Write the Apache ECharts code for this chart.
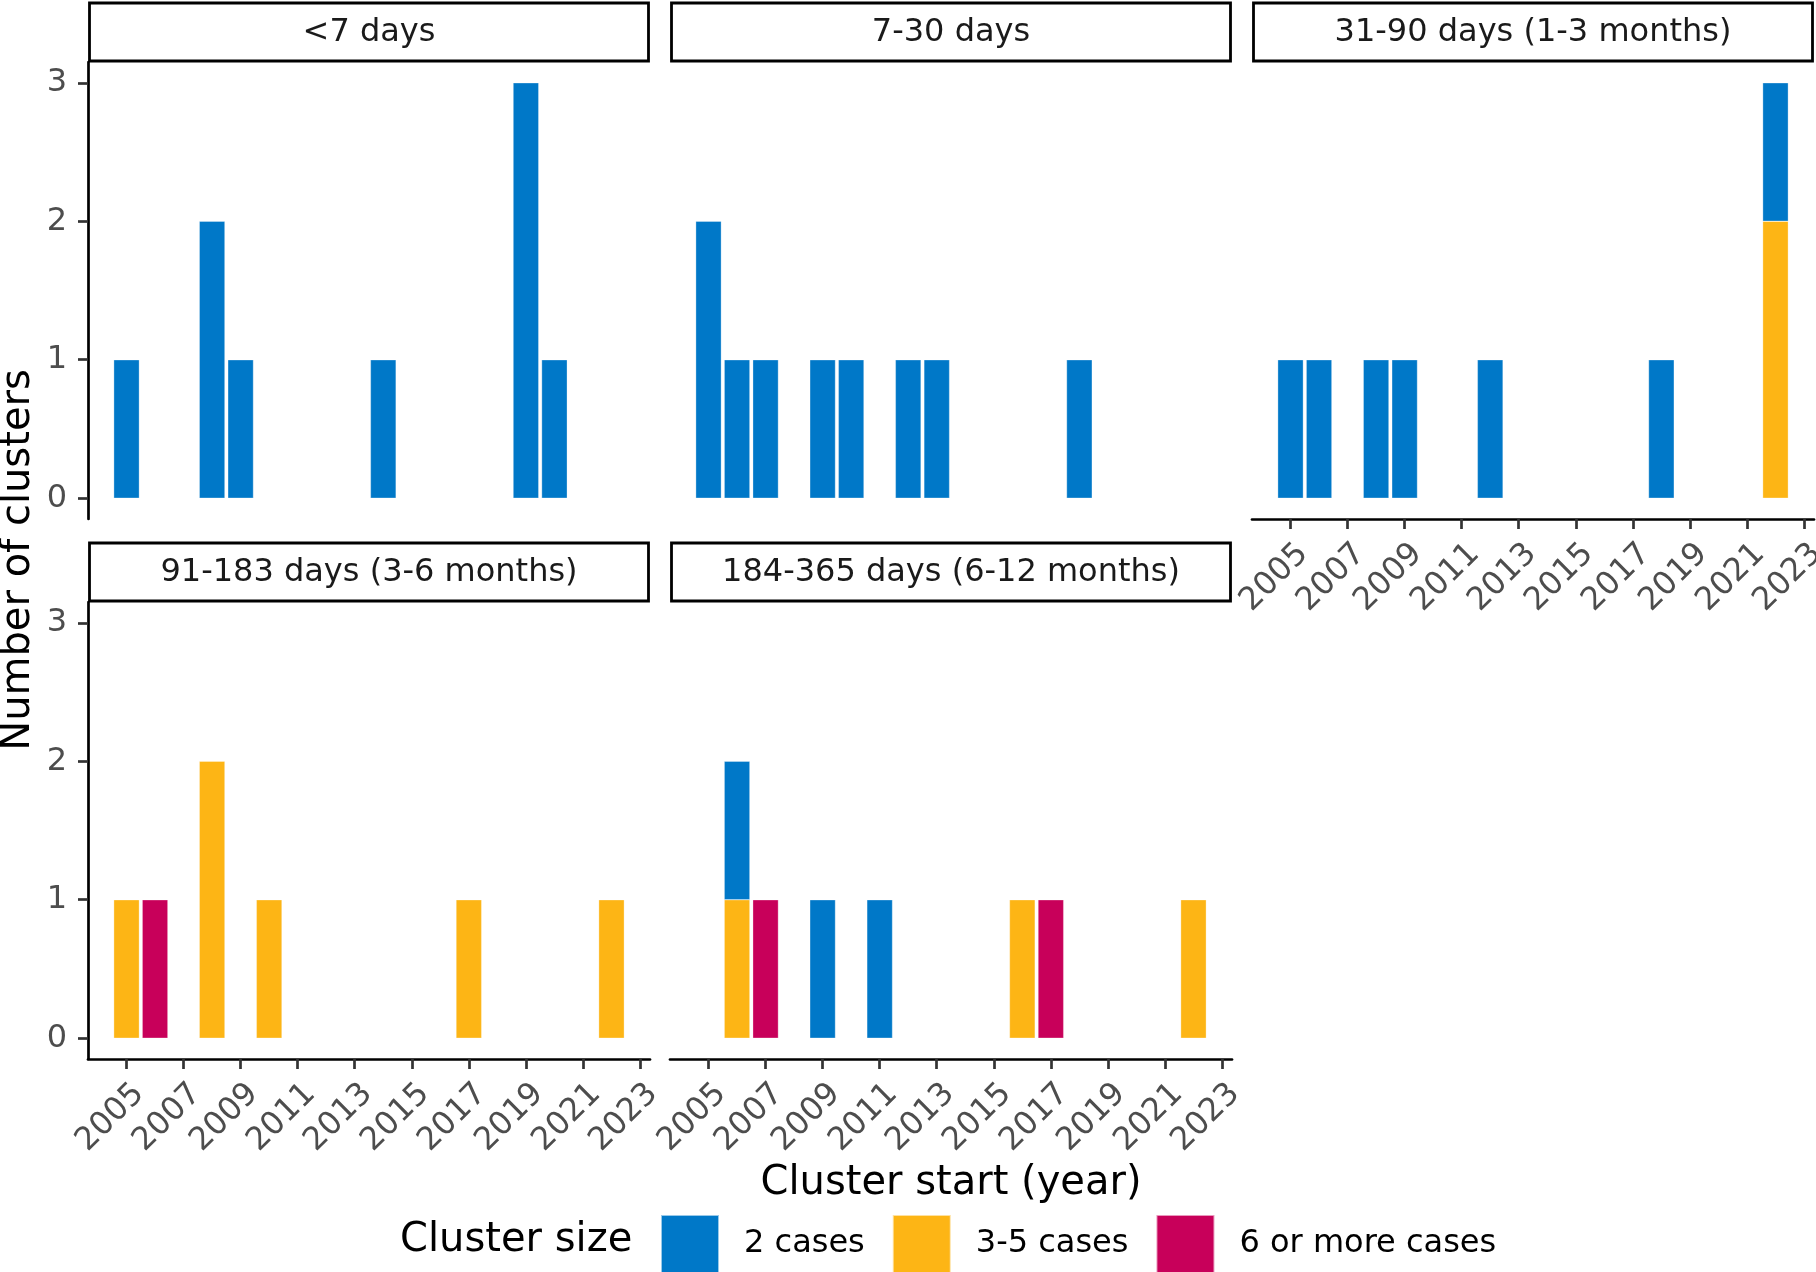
<!DOCTYPE html>
<html>
<head>
<meta charset="utf-8">
<title>Clusters by start year</title>
<script src="https://cdn.jsdelivr.net/npm/echarts@6/dist/echarts.min.js"></script>
<style>
  html, body { margin: 0; padding: 0; background: #fff; }
  #chart { width: 1816px; height: 1272px; }
</style>
</head>
<body>
<div id="chart"></div>
<script>
// x categories: one bar slot per start year
var years = [2005, 2006, 2007, 2008, 2009, 2010, 2011, 2012, 2013, 2014, 2015, 2016, 2017, 2018, 2019, 2020, 2021, 2022];
var xTicks = [2005, 2007, 2009, 2011, 2013, 2015, 2017, 2019, 2021, 2023];
var yTicks = [0, 1, 2, 3];

var panelNames = ['<7 days', '7-30 days', '31-90 days (1-3 months)', '91-183 days (3-6 months)', '184-365 days (6-12 months)'];
var sizeNames = ['2 cases', '3-5 cases', '6 or more cases'];
var sizeColors = ['#0078C8', '#FDB515', '#C8005A'];

// number of clusters per year (aligned with years)
var lt7Two    = [1, 0, 0, 2, 1, 0, 0, 0, 0, 1, 0, 0, 0, 0, 3, 1, 0, 0];
var lt7Three  = [0, 0, 0, 0, 0, 0, 0, 0, 0, 0, 0, 0, 0, 0, 0, 0, 0, 0];
var lt7Six    = [0, 0, 0, 0, 0, 0, 0, 0, 0, 0, 0, 0, 0, 0, 0, 0, 0, 0];

var d730Two   = [2, 1, 1, 0, 1, 1, 0, 1, 1, 0, 0, 0, 0, 1, 0, 0, 0, 0];
var d730Three = [0, 0, 0, 0, 0, 0, 0, 0, 0, 0, 0, 0, 0, 0, 0, 0, 0, 0];
var d730Six   = [0, 0, 0, 0, 0, 0, 0, 0, 0, 0, 0, 0, 0, 0, 0, 0, 0, 0];

var m13Two    = [1, 1, 0, 1, 1, 0, 0, 1, 0, 0, 0, 0, 0, 1, 0, 0, 0, 1];
var m13Three  = [0, 0, 0, 0, 0, 0, 0, 0, 0, 0, 0, 0, 0, 0, 0, 0, 0, 2];
var m13Six    = [0, 0, 0, 0, 0, 0, 0, 0, 0, 0, 0, 0, 0, 0, 0, 0, 0, 0];

var m36Two    = [0, 0, 0, 0, 0, 0, 0, 0, 0, 0, 0, 0, 0, 0, 0, 0, 0, 0];
var m36Three  = [1, 0, 0, 2, 0, 1, 0, 0, 0, 0, 0, 0, 1, 0, 0, 0, 0, 1];
var m36Six    = [0, 1, 0, 0, 0, 0, 0, 0, 0, 0, 0, 0, 0, 0, 0, 0, 0, 0];

var m612Two   = [0, 1, 0, 0, 1, 0, 1, 0, 0, 0, 0, 0, 0, 0, 0, 0, 0, 0];
var m612Three = [0, 1, 0, 0, 0, 0, 0, 0, 0, 0, 0, 1, 0, 0, 0, 0, 0, 1];
var m612Six   = [0, 0, 1, 0, 0, 0, 0, 0, 0, 0, 0, 0, 1, 0, 0, 0, 0, 0];

var panelCounts = [
  [lt7Two, lt7Three, lt7Six],
  [d730Two, d730Three, d730Six],
  [m13Two, m13Three, m13Six],
  [m36Two, m36Three, m36Six],
  [m612Two, m612Three, m612Six]
];

// layout (facet grid 3 x 2, last cell empty)
var colLeft = [88, 670, 1252];
var rowTop = [62, 602];
var gridW = 562, gridH = 457, stripH = 59;
var xMin = 2003.65, xMax = 2023.35;
var yMin = -0.15, yMax = 3.15;
var showX = [false, false, true, true, true];
var showY = [true, false, false, true, false];
var font = '"DejaVu Sans", sans-serif';
var barW = 0.9 * gridW / (xMax - xMin);

var grids = [], xAxes = [], yAxes = [], series = [], graphics = [];

panelNames.forEach(function (name, p) {
  var left = colLeft[p % 3], top = rowTop[Math.floor(p / 3)];
  grids.push({ left: left, top: top, width: gridW, height: gridH, outerBoundsMode: 'none' });

  xAxes.push({
    type: 'value', gridIndex: p, min: xMin, max: xMax,
    axisLine: { show: showX[p], onZero: false, lineStyle: { color: '#000', width: 2.7 } },
    axisTick: { show: showX[p], customValues: xTicks, length: 10, lineStyle: { color: '#333', width: 2.7 } },
    axisLabel: {
      show: showX[p], customValues: xTicks, rotate: 45, margin: 20,
      align: 'right', verticalAlign: 'top', padding: [0, -2, 0, 0],
      color: '#4D4D4D', fontSize: 32, fontFamily: font,
      formatter: function (v) { return String(v); }
    },
    splitLine: { show: false }
  });

  yAxes.push({
    type: 'value', gridIndex: p, min: yMin, max: yMax,
    axisLine: { show: showY[p], onZero: false, lineStyle: { color: '#000', width: 2.7 } },
    axisTick: { show: showY[p], customValues: yTicks, length: 10, lineStyle: { color: '#333', width: 2.7 } },
    axisLabel: {
      show: showY[p], customValues: yTicks, margin: 21,
      color: '#4D4D4D', fontSize: 32, fontFamily: font
    },
    splitLine: { show: false }
  });

  // stack order: 3-5 at the bottom, then 6+, then 2 cases on top
  // items are [count, year] so the count is the stacked dimension
  [1, 2, 0].forEach(function (s) {
    series.push({
      name: sizeNames[s],
      type: 'bar',
      xAxisIndex: p, yAxisIndex: p,
      stack: 'panel' + p,
      barWidth: barW,
      encode: { x: 1, y: 0 },
      itemStyle: { color: sizeColors[s], borderColor: 'rgba(255,255,255,0.6)', borderWidth: 0.5 },
      data: years.map(function (yr, i) {
        var v = panelCounts[p][s][i];
        return [v > 0 ? v : null, yr];
      })
    });
  });

  // facet strip
  graphics.push({
    type: 'rect',
    shape: { x: left + 1.5, y: top - stripH, width: gridW - 3, height: stripH - 1 },
    style: { fill: '#fff', stroke: '#000', lineWidth: 2.8 }
  });
  graphics.push({
    type: 'text', x: left + gridW / 2, y: top - stripH / 2,
    style: { text: name, font: '32px ' + font, fill: '#1A1A1A', align: 'center', verticalAlign: 'middle' }
  });
});

// axis titles and legend title
graphics.push({
  type: 'text', x: 951, y: 1184,
  style: { text: 'Cluster start (year)', font: '40px ' + font, fill: '#000', align: 'center', verticalAlign: 'middle' }
});
graphics.push({
  type: 'text', x: 19, y: 560, rotation: Math.PI / 2,
  style: { text: 'Number of clusters', font: '40px ' + font, fill: '#000', align: 'center', verticalAlign: 'middle' }
});
graphics.push({
  type: 'text', x: 400, y: 1241,
  style: { text: 'Cluster size', font: '40px ' + font, fill: '#000', align: 'left', verticalAlign: 'middle' }
});

var chart = echarts.init(document.getElementById('chart'));
chart.setOption({
  animation: false,
  backgroundColor: '#fff',
  grid: grids,
  xAxis: xAxes,
  yAxis: yAxes,
  series: series,
  graphic: graphics,
  legend: {
    data: sizeNames,
    left: 655, top: 1209,
    orient: 'horizontal',
    icon: 'rect',
    itemWidth: 58, itemHeight: 58,
    itemGap: 27,
    selectedMode: false,
    textStyle: { fontSize: 32, fontFamily: font, color: '#000', padding: [0, 0, 0, 20] }
  }
});
</script>
</body>
</html>
